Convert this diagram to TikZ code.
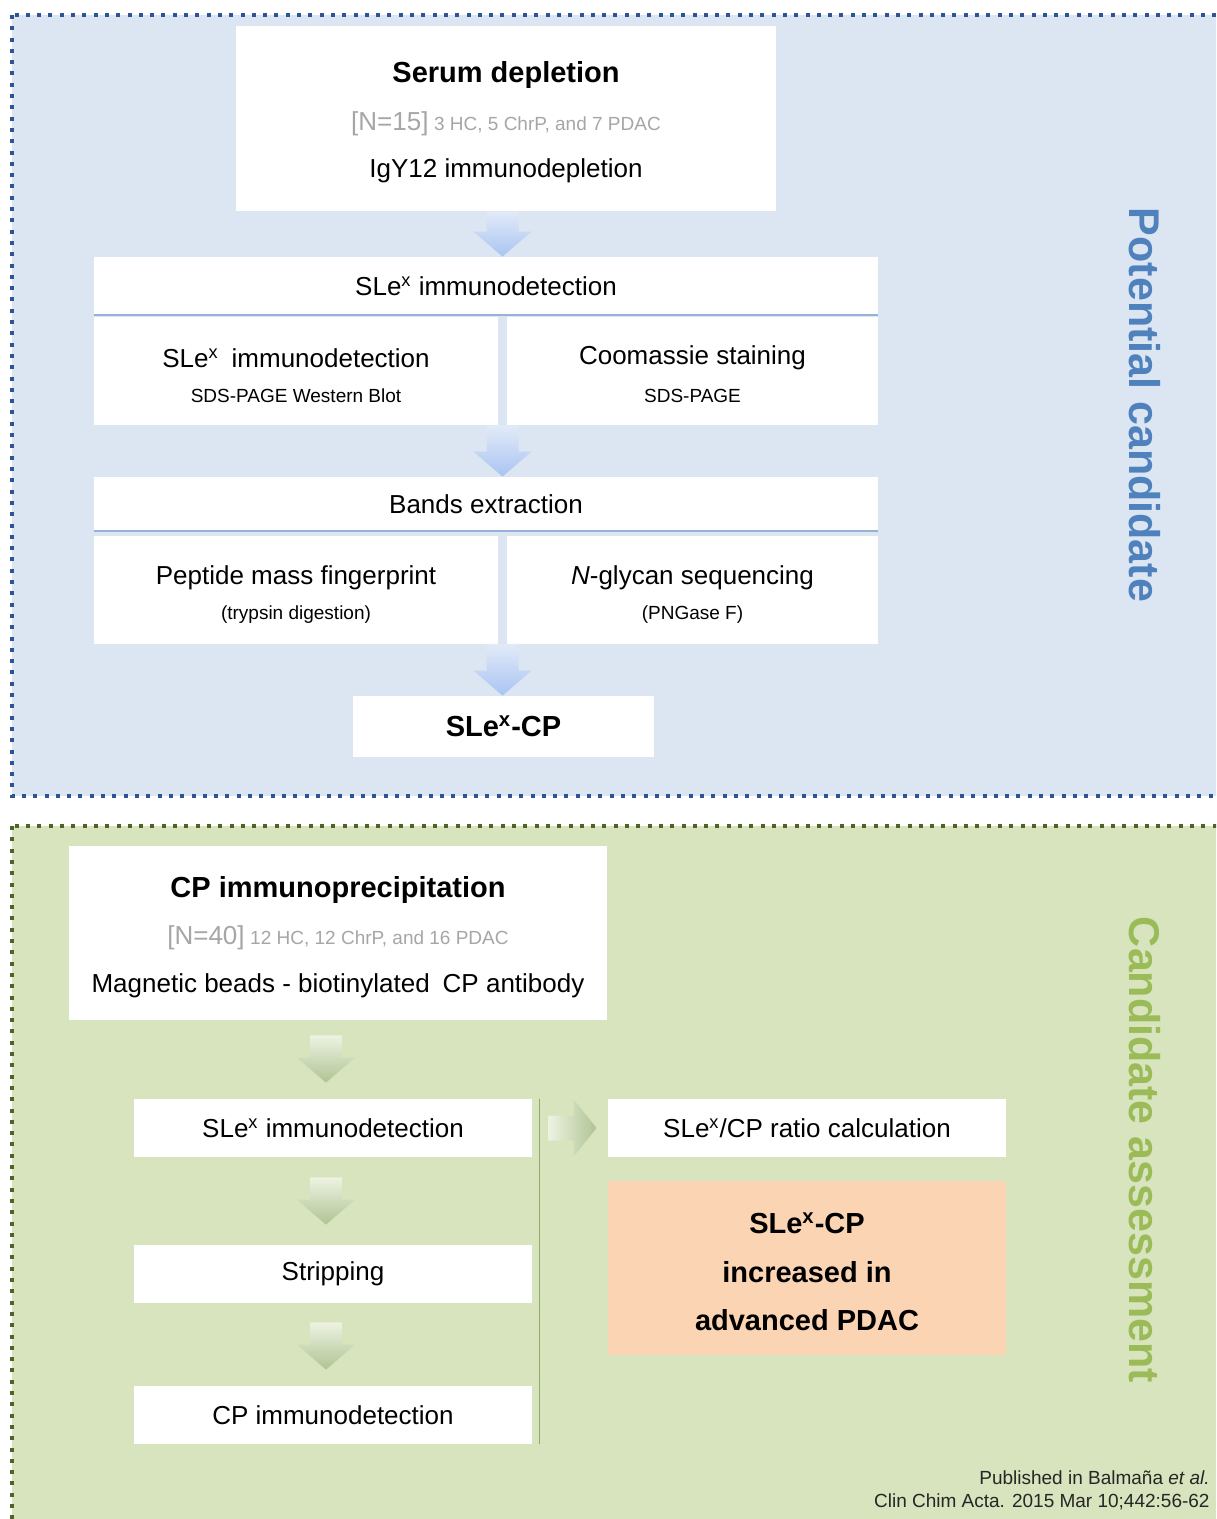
\documentclass[tikz,border=0pt]{standalone}
\usepackage{fontspec}
\setmainfont{Liberation Sans}
\usetikzlibrary{calc,positioning}
\definecolor{panelblue}{HTML}{DCE6F2}
\definecolor{edgeblue}{HTML}{2F5496}
\definecolor{panelgreen}{HTML}{D7E4BD}
\definecolor{edgegreen}{HTML}{4F6228}
\definecolor{sepblue}{HTML}{95B3D7}
\definecolor{txtgrey}{HTML}{A6A6A6}
\definecolor{labblue}{HTML}{4F81BD}
\definecolor{labgreen}{HTML}{9BBB59}
\definecolor{resorange}{HTML}{FBD4B4}
\definecolor{arrblueA}{HTML}{E2EAF8}
\definecolor{arrblueB}{HTML}{A9C4F2}
\definecolor{arrgreenA}{HTML}{EDF2E2}
\definecolor{arrgreenB}{HTML}{AFC493}
\definecolor{vline}{HTML}{8FAA6A}
\tikzset{
  panel/.style={line width=2pt, dash pattern=on 2pt off 3.65pt},
  stepbox/.style={fill=white, inner sep=0pt, align=center},
  normtxt/.style={font=\fontsize{13}{15}\selectfont},
  smalltxt/.style={font=\fontsize{9.5}{11}\selectfont},
  titletxt/.style={font=\fontsize{14.5}{17}\selectfont\bfseries},
  sidelab/.style={rotate=-90, font=\fontsize{21.5}{24}\selectfont\bfseries},
}
% block arrow pointing down, from #1 to #2
\newcommand\blkdown[4]{%
  \shade[top color=#3, bottom color=#4] let \p1=#1, \p2=#2 in
    (\x1-8pt,\y1) -- (\x1+8pt,\y1) -- (\x1+8pt,\y2+12.5pt) -- (\x1+14.5pt,\y2+12.5pt)
    -- (\x1,\y2) -- (\x1-14.5pt,\y2+12.5pt) -- (\x1-8pt,\y2+12.5pt) -- cycle;}

\begin{document}
\begin{tikzpicture}[x=0.5pt, y=-0.5pt,
  wide/.style={stepbox, normtxt, minimum width=392pt, minimum height=28pt},
  half/.style={stepbox, minimum height=54pt},
  row/.style={stepbox, normtxt, minimum width=199pt, minimum height=29pt},
]
  \useasboundingbox (0,0) rectangle (1216,1519);
  \clip (0,0) rectangle (1216,1519);

  % panels
  \draw[panel, draw=edgeblue, fill=panelblue] (12,15) rectangle (1240,796);
  \draw[panel, draw=edgegreen, fill=panelgreen] (12,826) rectangle (1240,1545);

  % potential candidate
  \node[stepbox, minimum width=270pt, minimum height=92.5pt] (sd) at (506,118.5) {};
  \node[titletxt] (sdt) at (506,75) {Serum depletion};
  \node[text=txtgrey] (sdn) at (506,124) {{\fontsize{13}{15}\selectfont [N=15]} {\fontsize{9.5}{11}\selectfont 3 HC, 5 ChrP, and 7 PDAC}};
  \node[normtxt] (sdm) at (506,171) {IgY12 immunodepletion};

  \node[wide, minimum height=29pt] (slxh) at (486,286) {SLe\textsuperscript{x} immunodetection};
  \node[half, minimum width=202pt] (slxl) at (296,371) {};
  \node[half, minimum width=185.5pt] (cms) at (692.5,371) {};
  \node[normtxt] (slxlt) at (296,358) {SLe\textsuperscript{x}\hspace{0.5em}immunodetection};
  \node[smalltxt] (slxls) at (296,396) {SDS-PAGE Western Blot};
  \node[normtxt] (cmst) at (692.5,358) {Coomassie staining};
  \node[smalltxt] (cmss) at (692.5,396) {SDS-PAGE};

  \node[wide, minimum height=27pt] (bnd) at (486,504) {Bands extraction};
  \node[half, minimum width=202pt] (pmf) at (296,589.5) {};
  \node[half, minimum width=185.5pt] (ngs) at (692.5,589.5) {};
  \node[normtxt] (pmft) at (296,578) {Peptide mass fingerprint};
  \node[smalltxt] (pmfs) at (296,615) {(trypsin digestion)};
  \node[normtxt] (ngst) at (692.5,578) {\textit{N}-glycan sequencing};
  \node[smalltxt] (ngss) at (692.5,615) {(PNGase F)};

  \node[stepbox, titletxt, minimum width=150.5pt, minimum height=30.5pt] (slxcp) at (503.5,726.5) {SLe\textsuperscript{x}-CP};

  \draw[sepblue, line width=1pt] (slxh.south west) -- (slxh.south east);
  \draw[sepblue, line width=1pt] (bnd.south west) -- (bnd.south east);

  \coordinate (gapa) at ($(slxl.north east)!0.5!(cms.north west)$);
  \coordinate (gapb) at ($(slxl.south east)!0.5!(cms.south west)$);
  \coordinate (gapc) at ($(pmf.south east)!0.5!(ngs.south west)$);
  \blkdown{(gapa |- sd.south)}{(gapa |- slxh.north)}{arrblueA}{arrblueB}
  \blkdown{(gapb)}{(gapb |- bnd.north)}{arrblueA}{arrblueB}
  \blkdown{(gapc)}{(gapc |- slxcp.north)}{arrblueA}{arrblueB}

  \node[sidelab, text=labblue] (potlab) at (1145,405) {Potential candidate};

  % candidate assessment
  \node[stepbox, minimum width=269pt, minimum height=87pt] (cpi) at (338,933) {};
  \node[titletxt] (cpit) at (338,890) {CP immunoprecipitation};
  \node[text=txtgrey] (cpin) at (338,938) {{\fontsize{13}{15}\selectfont [N=40]} {\fontsize{9.5}{11}\selectfont 12 HC, 12 ChrP, and 16 PDAC}};
  \node[normtxt] (cpim) at (338,986) {Magnetic beads - biotinylated\hspace{0.5em}CP antibody};

  \node[row] (slxd) at (333,1128) {SLe\textsuperscript{x} immunodetection};
  \node[row] (strp) at (333,1274) {Stripping};
  \node[row] (cpd) at (333,1415) {CP immunodetection};
  \node[row] (rat) at (807,1128) {SLe\textsuperscript{x}/CP ratio calculation};
  \node[stepbox, fill=resorange, minimum width=199pt, minimum height=87pt] (res) at (807,1268) {};
  \node[titletxt] (res1) at (807,1223) {SLe\textsuperscript{x}-CP};
  \node[titletxt] (res2) at (807,1272) {increased in};
  \node[titletxt] (res3) at (807,1320) {advanced PDAC};

  \blkdown{($(cpi.south)+(-12,15)$)}{($(slxd.north)+(-7,-16)$)}{arrgreenA}{arrgreenB}
  \blkdown{($(slxd.south)+(-7,20)$)}{($(strp.north)+(-7,-20)$)}{arrgreenA}{arrgreenB}
  \blkdown{($(strp.south)+(-7,19)$)}{($(cpd.north)+(-7,-16)$)}{arrgreenA}{arrgreenB}
  \shade[left color=arrgreenA, right color=arrgreenB] let \p1=($(slxd.east)+(16,0)$), \p2=($(rat.west)+(-11,0)$) in
    (\x1,\y1+6.25pt) -- (\x2-11.5pt,\y1+6.25pt) -- (\x2-11.5pt,\y1+14.25pt) -- (\x2,\y1)
    -- (\x2-11.5pt,\y1-14.25pt) -- (\x2-11.5pt,\y1-6.25pt) -- (\x1,\y1-6.25pt) -- cycle;
  \draw[vline, line width=0.6pt] ($(slxd.north east)+(7,0)$) -- ($(cpd.south east)+(7,0)$);

  \node[sidelab, text=labgreen] (asslab) at (1145,1150) {Candidate assessment};

  \node[anchor=east, align=right, inner sep=0pt, text=black!85, font=\fontsize{9.5}{11.5}\selectfont] (cite) at (1210,1490)
    {Published in Balmaña \textit{et al.}\\Clin Chim Acta. 2015 Mar 10;442:56-62};
\end{tikzpicture}
\end{document}
